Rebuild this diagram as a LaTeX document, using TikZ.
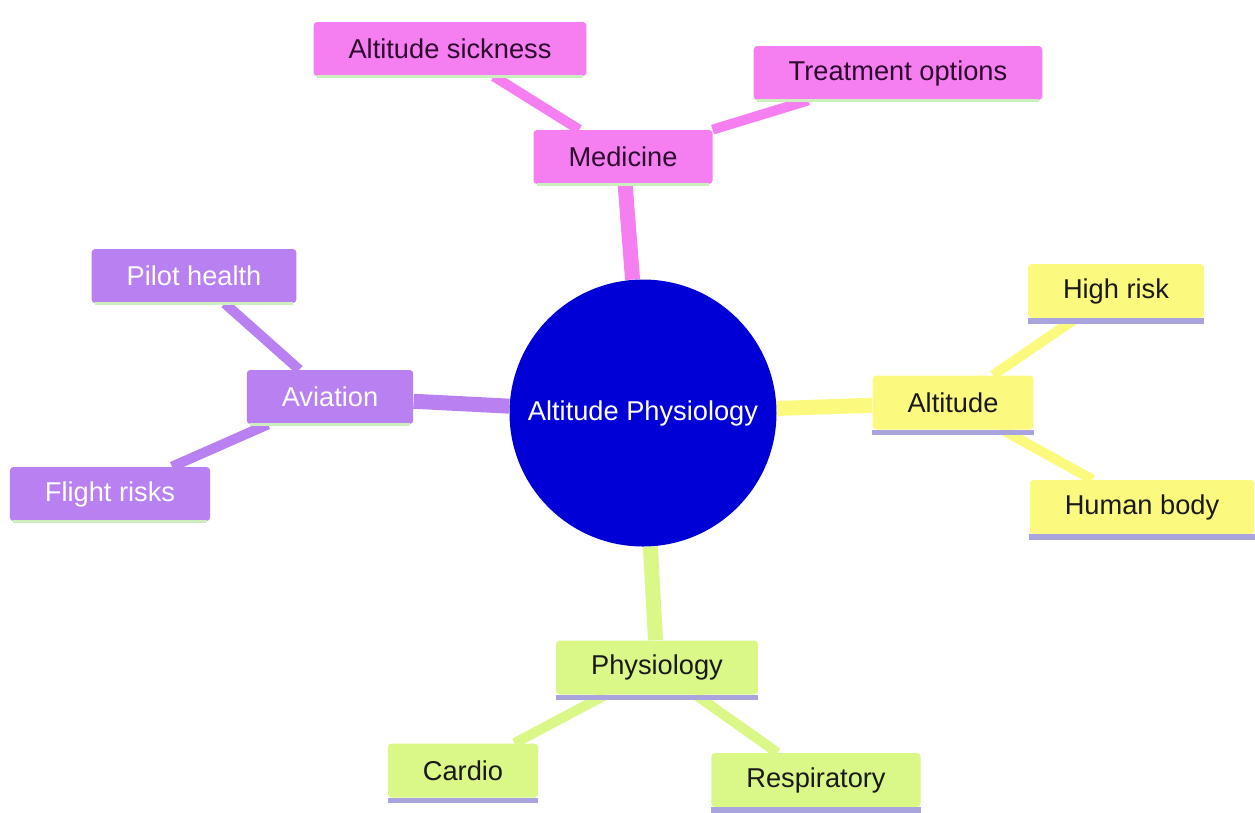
\documentclass[tikz,border=0pt]{standalone}
\usepackage{fontspec}
\setmainfont{Liberation Sans}
\usetikzlibrary{backgrounds}

\definecolor{pinkfill}{HTML}{F57FF1}
\definecolor{pinktext}{HTML}{2E0A2E}
\definecolor{purplefill}{HTML}{B980F2}
\definecolor{yellowfill}{HTML}{FCFA7E}
\definecolor{greenfill}{HTML}{D9F887}
\definecolor{rootblue}{HTML}{0000D6}
\definecolor{shadegreen}{HTML}{CDEFC0}
\definecolor{shadelilac}{HTML}{A9A3DE}

\tikzset{
  mapbox/.style={rectangle, rounded corners=2pt, inner xsep=0.7cm, inner ysep=0pt,
    minimum height=1.08cm, font=\fontsize{15.5}{18}\selectfont},
  medbox/.style={mapbox, fill=pinkfill, text=pinktext},
  avibox/.style={mapbox, fill=purplefill, text=white},
  altbox/.style={mapbox, fill=yellowfill, text=black!90},
  phybox/.style={mapbox, fill=greenfill, text=black!90},
  trunk/.style={line width=0.3cm},
  twig/.style={line width=0.2cm},
}

\begin{document}
\begin{tikzpicture}

\useasboundingbox (0,0) rectangle (25.1,-16.24);

% centre
\node[circle, fill=rootblue, text=white, minimum size=5.34cm, inner sep=0pt,
  font=\fontsize{15.5}{18}\selectfont] (root) at (12.86,-8.26) {Altitude Physiology};

% medicine branch
\node[medbox] (med) at (12.46,-3.14) {Medicine};
\node[medbox] (sick) at (9.00,-0.98) {Altitude sickness};
\node[medbox] (treat) at (17.96,-1.46) {Treatment options};

% aviation branch
\node[avibox] (avia) at (6.60,-7.94) {Aviation};
\node[avibox] (pilot) at (3.88,-5.52) {Pilot health};
\node[avibox] (flight) at (2.20,-9.88) {Flight risks};

% altitude branch
\node[altbox] (alt) at (19.06,-8.05) {Altitude};
\node[altbox] (high) at (22.32,-5.82) {High risk};
\node[altbox] (body) at (22.84,-10.14) {Human body};

% physiology branch
\node[phybox] (phys) at (13.14,-13.35) {Physiology};
\node[phybox] (cardio) at (9.26,-15.41) {Cardio};
\node[phybox] (resp) at (16.32,-15.60) {Respiratory};

% bottom edges
\foreach \n in {med,sick,treat,avia,pilot,flight}
  \draw[shadegreen, line width=2pt] ([xshift=2pt]\n.south west) -- ([xshift=-2pt]\n.south east);
\foreach \n in {alt,high,body,phys,cardio,resp}
  \draw[shadelilac, line width=3pt] ([yshift=-1.5pt]\n.south west) -- ([yshift=-1.5pt]\n.south east);

\begin{scope}[on background layer]
\draw[trunk, pinkfill] (root) -- (med);
\draw[twig, pinkfill] (med) -- (sick);
\draw[twig, pinkfill] (med) -- (treat);

\draw[trunk, purplefill] (root) -- (avia);
\draw[twig, purplefill] (avia) -- (pilot);
\draw[twig, purplefill] (avia) -- (flight);

\draw[trunk, yellowfill] (root) -- (alt);
\draw[twig, yellowfill] (alt) -- (high);
\draw[twig, yellowfill] (alt) -- (body);

\draw[trunk, greenfill] (root) -- (phys);
\draw[twig, greenfill] (phys) -- (cardio);
\draw[twig, greenfill] (phys) -- (resp);
\end{scope}

\end{tikzpicture}
\end{document}
